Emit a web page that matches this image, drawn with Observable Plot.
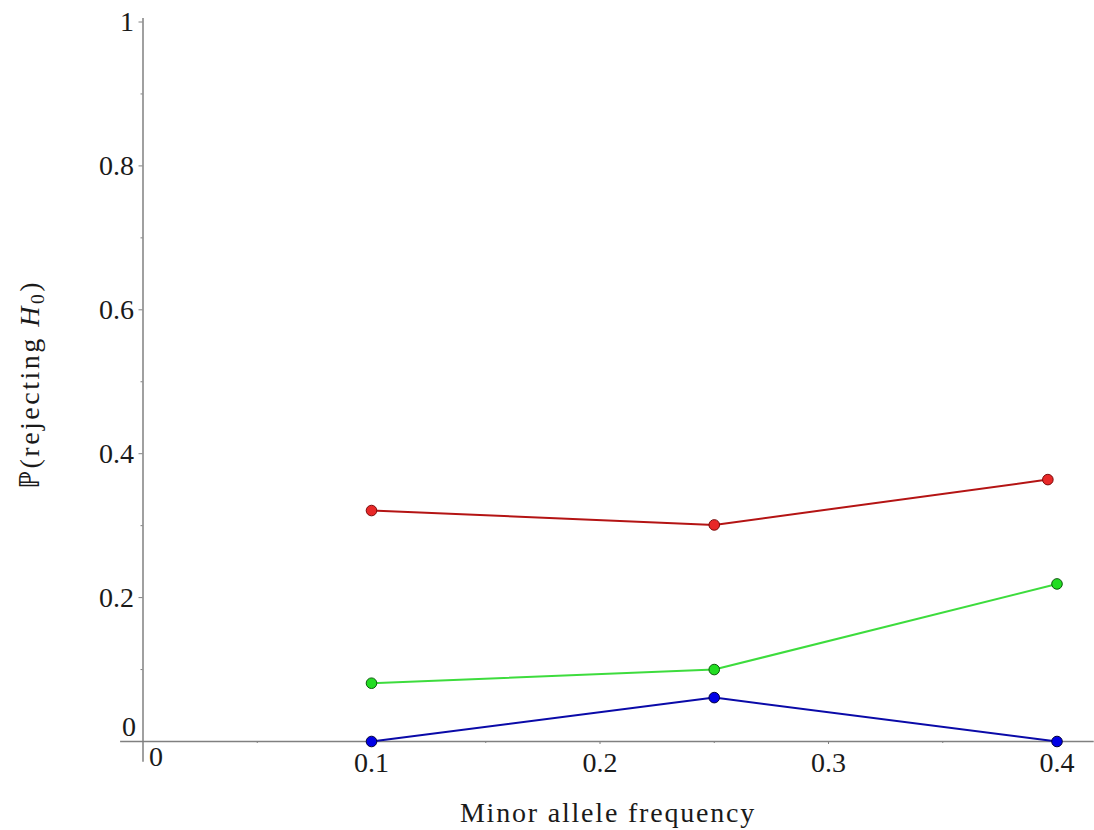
<!DOCTYPE html>
<html>
<head>
<meta charset="utf-8">
<script src="https://cdn.jsdelivr.net/npm/d3@7"></script>
<script src="https://cdn.jsdelivr.net/npm/@observablehq/plot@0.6"></script>
<style>
  html, body { margin: 0; padding: 0; background: #fff; overflow: hidden; }
  #chart svg { display: block; }
  #chart svg text { font-family: "Liberation Serif", "Times New Roman", serif; }
</style>
</head>
<body>
<div id="chart"></div>
<script>
// ---- data ----
const mafRed   = [0.1, 0.25, 0.396];
const pRed     = [0.321, 0.301, 0.364];
const mafGreen = [0.1, 0.25, 0.4];
const pGreen   = [0.081, 0.100, 0.219];
const mafBlue  = [0.1, 0.25, 0.4];
const pBlue    = [0.0, 0.061, 0.0];

const xMajorTicks = [0.1, 0.2, 0.3, 0.4];
const xMinorTicks = [0.05, 0.15, 0.25, 0.35];
const yMajorTicks = [0.2, 0.4, 0.6, 0.8, 1];
const yMinorTicks = [0.1, 0.3, 0.5, 0.7, 0.9];
const xTickLabels = ["0.1", "0.2", "0.3", "0.4"];
const yTickLabels = ["0.2", "0.4", "0.6", "0.8", "1"];

const xTitle = "Minor allele frequency";

const series = [
  {name: "red",   xs: mafRed,   ys: pRed,   line: "#b41414", fill: "#e82828", edge: "#7a0a0a"},
  {name: "green", xs: mafGreen, ys: pGreen, line: "#3ddc3d", fill: "#22dd22", edge: "#0b5a0b"},
  {name: "blue",  xs: mafBlue,  ys: pBlue,  line: "#0a0aa8", fill: "#0000e6", edge: "#00003a"}
];
const rows = series.flatMap(s => s.xs.map((x, i) => ({series: s.name, x, y: s.ys[i]})));

const font = "Liberation Serif";
const fs = 28;
const axisColor = "#808080";
const ink = "#1a1a1a";

const marks = [
  // axis lines
  Plot.ruleY([0], {x1: -0.0098, x2: 0.4163, stroke: axisColor, strokeWidth: 1.5}),
  Plot.ruleX([0], {y1: -0.029, y2: 1.005, stroke: axisColor, strokeWidth: 1.5}),
  // ticks
  Plot.axisY({ticks: yMajorTicks, tickSize: 4, tickFormat: () => "", label: null, stroke: axisColor}),
  Plot.axisY({ticks: yMinorTicks, tickSize: 2, tickFormat: () => "", label: null, stroke: axisColor}),
  Plot.axisX({ticks: xMajorTicks, tickSize: 3, tickFormat: () => "", label: null, stroke: axisColor}),
  Plot.axisX({ticks: xMinorTicks, tickSize: 2, tickFormat: () => "", label: null, stroke: axisColor}),
  // tick labels
  Plot.text(xMajorTicks, {x: d => d, y: 0, text: (d, i) => xTickLabels[i], dy: 21.5, lineAnchor: "middle", fontSize: fs, fontFamily: font, fill: ink}),
  Plot.text(yMajorTicks, {x: 0, y: d => d, text: (d, i) => yTickLabels[i], dx: -9, textAnchor: "end", lineAnchor: "middle", fontSize: fs, fontFamily: font, fill: ink}),
  Plot.text([0], {x: 0, y: 0, text: () => "0", dx: -14, dy: -14, lineAnchor: "middle", fontSize: fs, fontFamily: font, fill: ink}),
  Plot.text([0], {x: 0, y: 0, text: () => "0", dx: 13, dy: 16, lineAnchor: "middle", fontSize: fs, fontFamily: font, fill: ink}),
  // series
  ...series.map(s => Plot.line(rows.filter(r => r.series === s.name), {x: "x", y: "y", stroke: s.line, strokeWidth: 2})),
  ...series.map(s => Plot.dot(rows.filter(r => r.series === s.name), {x: "x", y: "y", r: 5.3, fill: s.fill, stroke: s.edge, strokeWidth: 1}))
];

const chart = Plot.plot({
  width: 1094,
  height: 830,
  marginLeft: 142.5,
  marginRight: 37.5,
  marginTop: 21.5,
  marginBottom: 89,
  x: {domain: [0, 0.4], axis: null},
  y: {domain: [0, 1], axis: null},
  marks
});

// axis titles as real text
const svg = d3.select(chart);
svg.append("text")
  .attr("x", 608).attr("y", 822)
  .attr("text-anchor", "middle")
  .attr("font-family", font).attr("font-size", fs).attr("letter-spacing", 1.8)
  .attr("fill", ink)
  .text(xTitle);

const yt = svg.append("text")
  .attr("transform", "translate(39,489) rotate(-90)")
  .attr("text-anchor", "start")
  .attr("font-family", font).attr("font-size", fs).attr("letter-spacing", 2.5)
  .attr("fill", ink);
yt.append("tspan").text("ℙ(rejecting ");
yt.append("tspan").attr("font-style", "italic").text("H");
yt.append("tspan").attr("font-size", fs * 0.7).attr("dy", 5).text("0");
yt.append("tspan").attr("dy", -5).text(")");

document.getElementById("chart").appendChild(chart);
</script>
</body>
</html>
